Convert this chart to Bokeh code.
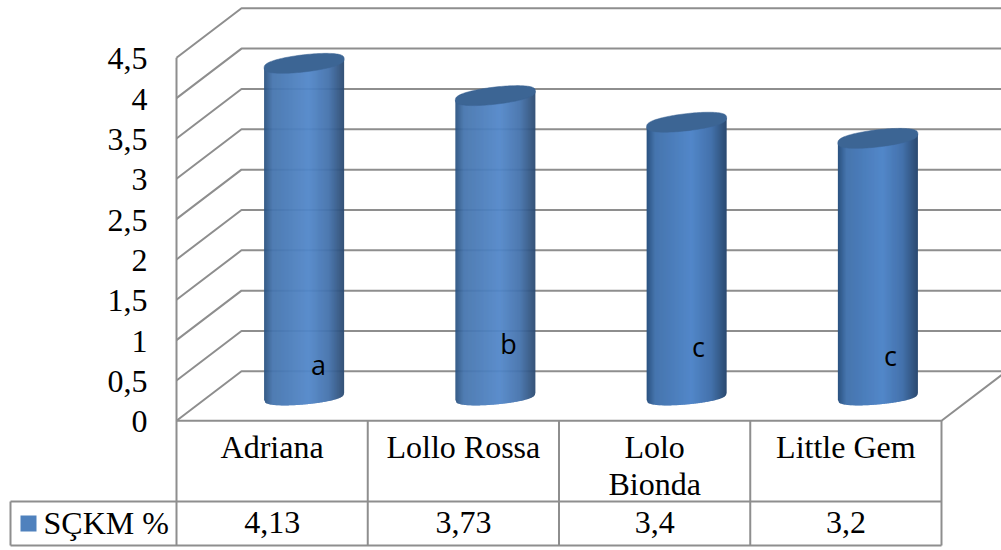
import numpy as np
from bokeh.core.properties import value
from bokeh.embed import file_html
from bokeh.models import Range1d
from bokeh.plotting import figure
from bokeh.resources import INLINE

# Chart data
categories = ["Adriana", "Lollo Rossa", "Lolo\nBionda", "Little Gem"]
sckm_values = [4.13, 3.73, 3.4, 3.2]
value_labels = ["4,13", "3,73", "3,4", "3,2"]
significance = ["a", "b", "c", "c"]
series_name = "SÇKM %"
ticks = [0, 0.5, 1, 1.5, 2, 2.5, 3, 3.5, 4, 4.5]
tick_labels = ["0", "0,5", "1", "1,5", "2", "2,5", "3", "3,5", "4", "4,5"]

W, H = 1001, 550
X0, CELL = 176.0, 191.25      # plot floor front-left corner and category width (px)
Y0, UNIT = 420.3, 80.67       # baseline position and pixels per value unit
DX, DY = 65.0, -49.5          # depth offset of the back wall (px)
GRID = "#8e8e8e"
SERIF = value("Liberation Serif")
TEXT_SIZE = "32px"


def ux(px):
    return (np.asarray(px, dtype=float) - X0) / CELL


def uy(py):
    return (Y0 - np.asarray(py, dtype=float)) / UNIT


p = figure(width=W, height=H, output_backend="svg", toolbar_location=None,
           x_range=Range1d(float(ux(0)), float(ux(W))),
           y_range=Range1d(float(uy(H)), float(uy(0))),
           min_border=0, outline_line_color=None, background_fill_color="white",
           border_fill_color="white")
p.axis.visible = False
p.grid.visible = False

# Back wall gridlines with their slanted side-wall segments
gx, gy = [], []
for t in ticks:
    back = uy(Y0 - t * UNIT + DY)
    gx.append([float(ux(X0)), float(ux(X0 + DX)), float(ux(W))])
    gy.append([t, float(back), float(back)])
p.multi_line(gx, gy, line_color=GRID, line_width=2)

# Side wall edge, floor front edge and right floor edge
p.line(ux([X0, X0]), [0, ticks[-1]], line_color=GRID, line_width=2)
p.line(ux([X0, X0 + 4 * CELL, W]), [0, 0, float(uy(Y0 + DY * (W - X0 - 4 * CELL) / DX))],
       line_color=GRID, line_width=2)

# Colour stops across the cylinder width
STOPS = [0.0, 0.10, 0.55, 0.80, 1.0]
STOP_COLORS = np.array([[44, 84, 130], [70, 117, 174], [82, 135, 201], [68, 114, 172], [42, 72, 110]], dtype=float)


def shade(f):
    c = [np.interp(f, STOPS, STOP_COLORS[:, k]) for k in range(3)]
    return "#%02x%02x%02x" % tuple(int(round(v)) for v in c)


# Cylinders, drawn as narrow vertical strips with a tilted, slightly squared cap
RX, RT, RB, KT, KB = 40.0, 8.6, 8.0, 4.5, 3.5
SQUARE = 0.75
BASE_Y = 396.0
for i, v in enumerate(sckm_values):
    cx = X0 + (i + 0.5) * CELL + 32
    cy_top = BASE_Y - v * UNIT
    n = 80
    edges = np.linspace(-1, 1, n + 1)
    xs, ys, cols = [], [], []
    for j in range(n):
        c0, c1 = edges[j], min(edges[j + 1] + 0.012, 1.0)
        s0, s1 = np.sqrt(1 - c0 * c0) ** SQUARE, np.sqrt(1 - c1 * c1) ** SQUARE
        top0, top1 = cy_top - KT * c0, cy_top - KT * c1
        bot0, bot1 = BASE_Y - KB * c0 + RB * s0, BASE_Y - KB * c1 + RB * s1
        xs.append(ux([cx + RX * c0, cx + RX * c1, cx + RX * c1, cx + RX * c0]).tolist())
        ys.append(uy([top0, top1, bot1, bot0]).tolist())
        cols.append(shade((edges[j] + 1) / 2))
    p.patches(xs, ys, fill_color=cols, line_color=None)

    t = np.linspace(0, 2 * np.pi, 120)
    sin_part = np.sign(np.sin(t)) * np.abs(np.sin(t)) ** SQUARE
    p.patch(ux(cx + RX * np.cos(t)), uy(cy_top - KT * np.cos(t) + RT * sin_part),
            fill_color="#3c6594", line_color="#3c6594", line_width=0.5)

# Significance letters on the cylinders
letter_px = [318, 508, 698, 890]
letter_py = [364, 343, 346, 355]
p.text(ux(letter_px), uy(letter_py), text=significance, text_font=value("Open Sans"),
       text_font_size="27px", text_color="black", text_align="center", text_baseline="middle")

# Value axis labels
tick_shift = 1.0 / UNIT
p.text(ux([147] * len(ticks)), [t - tick_shift for t in ticks], text=tick_labels, text_font=SERIF,
       text_font_size=TEXT_SIZE, text_color="black", text_align="right", text_baseline="middle")

# Data table under the plot
ROW1, ROW2, ROW3 = 420.0, 501.0, 545.0
xe = [X0 + k * CELL for k in range(5)]
tx, ty = [], []
for x in xe:
    tx.append(ux([x, x]).tolist())
    ty.append(uy([ROW1, ROW3]).tolist())
tx.append(ux([10, 10]).tolist())
ty.append(uy([ROW2, ROW3]).tolist())
tx.append(ux([10, xe[-1]]).tolist())
ty.append(uy([ROW2, ROW2]).tolist())
tx.append(ux([10, xe[-1]]).tolist())
ty.append(uy([ROW3, ROW3]).tolist())
p.multi_line(tx, ty, line_color=GRID, line_width=2)

centers = [i + 0.5 for i in range(4)]
for i, name in enumerate(categories):
    for k, part in enumerate(name.split("\n")):
        p.text([centers[i]], [float(uy(446.5 + k * 37))], text=[part], text_font=SERIF,
               text_font_size=TEXT_SIZE, text_color="black", text_align="center",
               text_baseline="middle")
p.text(centers, [float(uy(522))] * 4, text=value_labels, text_font=SERIF, text_font_size=TEXT_SIZE,
       text_color="black", text_align="center", text_baseline="middle")

# Legend key and series name
p.quad(left=[float(ux(20))], right=[float(ux(36))], top=[float(uy(515))], bottom=[float(uy(531))],
       fill_color="#4f81bd", line_color=None)
p.text([float(ux(43))], [float(uy(522))], text=[series_name], text_font=SERIF,
       text_font_size=TEXT_SIZE, text_color="black", text_align="left", text_baseline="middle")

open("out.html", "w").write(file_html(p, INLINE))
